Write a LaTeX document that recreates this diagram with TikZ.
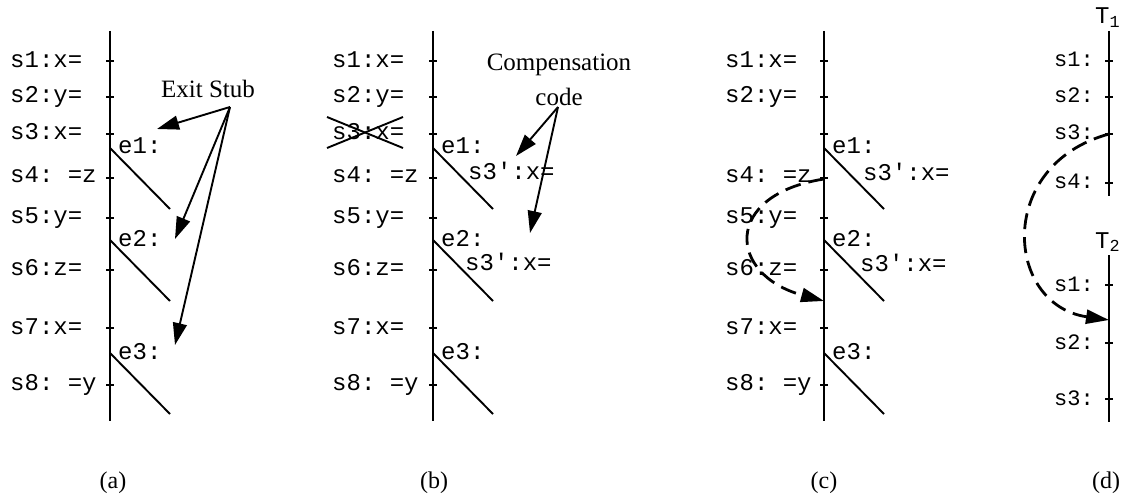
\documentclass[tikz,border=0pt]{standalone}
\usepackage{fontspec}
\setmainfont{Liberation Serif}
\setmonofont{Liberation Mono}
\usepackage{tikz}
\usetikzlibrary{arrows.meta,positioning}
\tikzset{
  stmt/.style={font=\fontsize{24}{28}\selectfont\ttfamily, inner sep=0pt, anchor=base west},
  smallstmt/.style={font=\fontsize{22}{26}\selectfont\ttfamily, inner sep=0pt, anchor=base west},
  note/.style={font=\fontsize{25}{35}\selectfont, align=center, inner sep=0pt},
  caption/.style={font=\fontsize{24}{28}\selectfont, inner sep=0pt, anchor=base},
  thread/.style={line width=2.4pt},
  tickmark/.style={line width=1.6pt},
  stub/.style={line width=1.9pt},
  callout/.style={line width=1.9pt, -{Triangle[length=22pt,width=14pt]}},
  jump/.style={line width=2.8pt, dash pattern=on 16pt off 8pt, -{Triangle[length=23pt,width=14pt]}}
}

\begin{document}
\begin{tikzpicture}[x=1pt, y=-1pt]
        \useasboundingbox (0,0) rectangle (1123,494);

        \foreach \p/\px in {a/110, b/433, c/824} {
          \draw[thread] (\px,31) -- (\px,421);
          \foreach \ty in {61,97,134,178,218,270,328,385}
            \draw[tickmark] (\px-4,\ty) -- (\px+4,\ty);
          \foreach \k/\ey in {1/148, 2/240, 3/353} {
            \draw[stub] (\px,\ey) -- (\px+60,\ey+61);
            \node[stmt] (\p-e\k) at (\px+8,\ey+6) {e\k:};
          }
        }

        \foreach \p/\lx in {a/10, b/332, c/725}
          \foreach \k/\sy/\txt in {1/68/s1:x=, 2/103/s2:y=, 4/183/s4: =z, 5/223/s5:y=,
                                   6/275/s6:z=, 7/334/s7:x=, 8/390/s8: =y}
            \node[stmt] (\p-s\k) at (\lx,\sy) {\txt};
        \node[stmt] (a-s3) at (10,140) {s3:x=};
        \node[stmt] (b-s3) at (332,140) {s3:x=};
        \draw[stub] (327,117) -- (403,148);
        \draw[stub] (327,148) -- (403,117);

        \node[stmt] (b-r1) at (468,180) {s3':x=};
        \node[stmt] (b-r2) at (465,270) {s3':x=};
        \node[stmt] (c-r1) at (863,181) {s3':x=};
        \node[stmt] (c-r2) at (860,271) {s3':x=};

        \node[note, anchor=base] (exitstub) at (208,98) {Exit Stub};
        \coordinate (stubfork) at (230,107);
        \coordinate (a-t1) at (157,129);
        \coordinate (a-t2) at (175,239);
        \coordinate (a-t3) at (175,345);
        \foreach \k in {1,2,3}
          \draw[callout] (stubfork) -- (a-t\k);

        \node[note] (compcode) at (559,80) {Compensation\\code};
        \coordinate (compfork) at (558,107);
        \coordinate (b-t1) at (516,156);
        \coordinate (b-t2) at (530,233);
        \foreach \k in {1,2}
          \draw[callout] (compfork) -- (b-t\k);

        \coordinate (c-from) at (824,179);
        \coordinate (c-to) at (824,301);
        \draw[jump] (c-from) .. controls (722,195) and (728,275) .. (c-to);

        \draw[thread] (1109,31) -- (1109,196);
        \draw[thread] (1109,255) -- (1109,422);
        \node[stmt] (t1) at (1095,24) {T\textsubscript{1}};
        \node[stmt] (t2) at (1095,248) {T\textsubscript{2}};
        \foreach \k/\ty in {1/61, 2/97, 3/134, 4/183} {
          \draw[tickmark] (1105,\ty) -- (1113,\ty);
          \node[smallstmt] (d1-s\k) at (1054,\ty+6) {s\k:};
        }
        \foreach \k/\ty in {1/285, 2/343, 3/399} {
          \draw[tickmark] (1105,\ty) -- (1113,\ty);
          \node[smallstmt] (d2-s\k) at (1054,\ty+6) {s\k:};
        }
        \coordinate (d-from) at (1109,134);
        \coordinate (d-to) at (1109,320);
        \draw[jump] (d-from) .. controls (995,165) and (1005,305) .. (d-to);

        \node[caption] (cap-a) at (113,488) {(a)};
        \node[caption] (cap-b) at (434,488) {(b)};
        \node[caption] (cap-c) at (824,488) {(c)};
        \node[caption] (cap-d) at (1106,488) {(d)};
      \end{tikzpicture}
\end{document}
